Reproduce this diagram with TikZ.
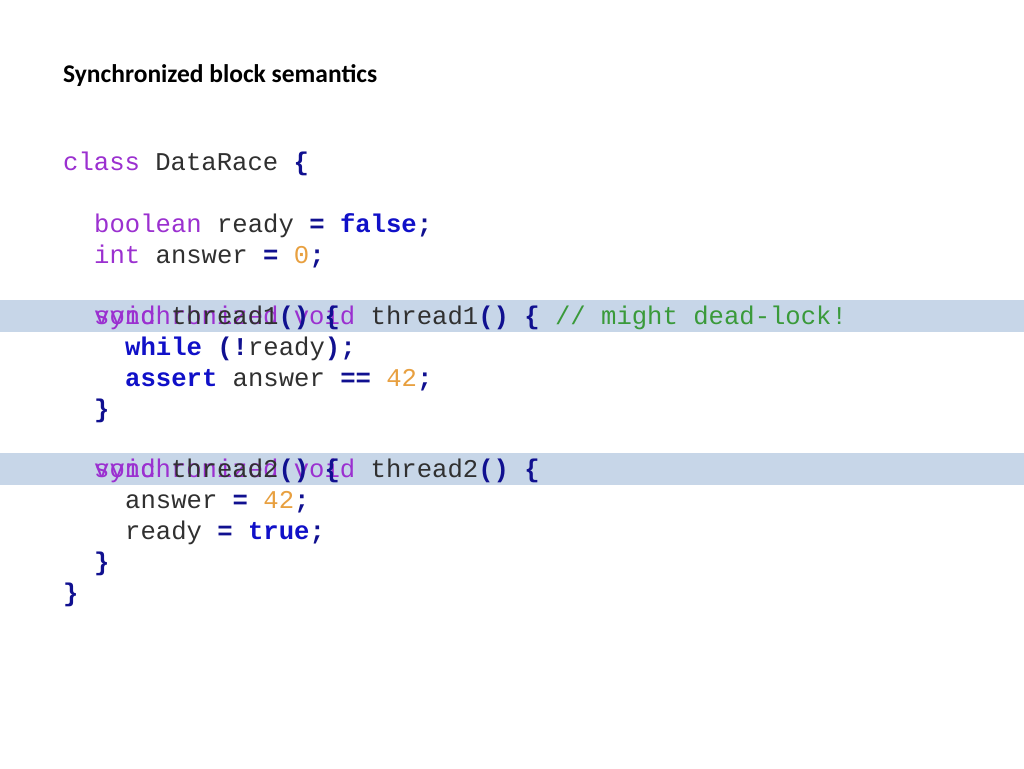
\documentclass[tikz,border=0pt]{standalone}
\usepackage{fontspec}
\setmainfont{Carlito}
\setmonofont{Liberation Mono}
\definecolor{kwc}{HTML}{9B30D0}
\definecolor{opc}{HTML}{101090}
\definecolor{bkc}{HTML}{1010C8}
\definecolor{numc}{HTML}{E8A040}
\definecolor{cmc}{HTML}{3A9A3A}
\definecolor{band}{HTML}{C7D6E8}
\definecolor{txc}{HTML}{303030}
\newcommand{\kw}[1]{\textcolor{kwc}{#1}}
\newcommand{\op}[1]{\textcolor{opc}{\bfseries #1}}
\newcommand{\bk}[1]{\textcolor{bkc}{\bfseries #1}}
\newcommand{\nm}[1]{\textcolor{numc}{#1}}
\newcommand{\cm}[1]{\textcolor{cmc}{#1}}
\begin{document}
\begin{tikzpicture}[x=1pt,y=-1pt,
  code/.style={anchor=base west,inner sep=0pt,font=\fontsize{25.6}{30}\ttfamily,text=txc}]
\useasboundingbox (0,0) rectangle (1024,768);
\fill[white] (0,0) rectangle (1024,768);
\fill[band] (0,300) rectangle (1024,332);
\fill[band] (0,453) rectangle (1024,485);
\node[anchor=base west,inner sep=0pt,font=\fontsize{25.5}{30}\bfseries] (title) at (63,82) {Synchronized block semantics};
\node[code] (l1) at (63,170) {\kw{class} DataRace \op{\{}};
\node[code] (l2) at (94,232) {\kw{boolean} ready \op{=} \bk{false}\op{;}};
\node[code] (l3) at (94,263) {\kw{int} answer \op{=} \nm{0}\op{;}};
\node[code] (l4a) at (94,324) {\kw{synchronized void} thread1\op{()} \op{\{} \cm{// might dead-lock!}};
\node[code] (l4b) at (94,324) {\kw{void} thread1\op{()} \op{\{}};
\node[code] (l5) at (125,355) {\bk{while} \op{(!}ready\op{);}};
\node[code] (l6) at (125,386) {\bk{assert} answer \op{==} \nm{42}\op{;}};
\node[code] (l7) at (94,417) {\op{\}}};
\node[code] (l8a) at (94,477) {\kw{synchronized void} thread2\op{()} \op{\{}};
\node[code] (l8b) at (94,477) {\kw{void} thread2\op{()} \op{\{}};
\node[code] (l9) at (125,508) {answer \op{=} \nm{42}\op{;}};
\node[code] (l10) at (125,539) {ready \op{=} \bk{true}\op{;}};
\node[code] (l11) at (94,570) {\op{\}}};
\node[code] (l12) at (63,601) {\op{\}}};
\end{tikzpicture}
\end{document}
